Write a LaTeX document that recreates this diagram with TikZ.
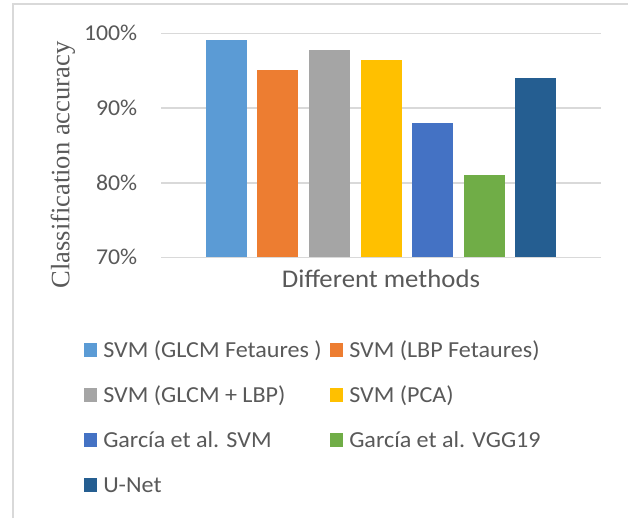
\documentclass[tikz,border=0pt]{standalone}
\usepackage{fontspec}
\setmainfont{Liberation Serif}
\newfontfamily\calfont{Carlito}[FakeStretch=1.05]
\definecolor{cA}{HTML}{5B9BD5}
\definecolor{cB}{HTML}{ED7D31}
\definecolor{cC}{HTML}{A5A5A5}
\definecolor{cD}{HTML}{FFC000}
\definecolor{cE}{HTML}{4472C4}
\definecolor{cF}{HTML}{70AD47}
\definecolor{cG}{HTML}{255E91}
\definecolor{txt}{HTML}{595959}
\definecolor{gridc}{HTML}{D9D9D9}
\tikzset{
  gridline/.style={draw=gridc, line width=1.2pt},
  ticklab/.style={text=txt, inner sep=0pt, font=\calfont\fontsize{17}{19}\selectfont},
  axtitle/.style={text=txt, inner sep=0pt, font=\calfont\fontsize{19.1}{22}\selectfont},
  ylab/.style={text=txt, inner sep=0pt, font=\fontsize{19.9}{23}\selectfont, rotate=90},
  legtext/.style={text=txt, inner sep=0pt, anchor=base west, font=\calfont\fontsize{17.2}{20}\selectfont},
  legbox/.style={inner sep=0pt, minimum width=9.6pt, minimum height=10.3pt, anchor=south west},
}
\begin{document}
\begin{tikzpicture}[x=0.75pt,y=-0.75pt]
\useasboundingbox (0,0) rectangle (628,518);
\fill[white] (0,0) rectangle (628,518);
\coordinate (bl) at (13,518);
\coordinate (tr) at (628,4);
\draw[gridc, line width=1.5pt] (bl) |- (tr);
% gridlines and ticks
\foreach \v/\y in {100/33.3, 90/108, 80/182.7, 70/257.3}{
  \coordinate (gl\v) at (161,\y);
  \coordinate (gr\v) at (601,\y);
  \draw[gridline] (gl\v) -- (gr\v);
  \node[ticklab, anchor=east] (t\v) at (137.5,\y) {\v\%};
}
% bars
\foreach \i/\val/\c in {1/99.07/cA, 2/95.1/cB, 3/97.8/cC, 4/96.4/cD, 5/88.0/cE, 6/81.0/cF, 7/94.0/cG}{
  \pgfmathsetmacro{\xc}{226.2+(\i-1)*51.6}
  \pgfmathsetmacro{\yt}{257.3-(\val-70)*7.467}
  \fill[\c] (\xc-20.5,257.3) rectangle (\xc+20.5,\yt);
}
\node[axtitle, anchor=base] (xt) at (381,287) {Different methods};
\node[ylab] (yt) at (63,165) {Classification accuracy};
% legend
\foreach \n/\x/\y/\c/\t in {
  l1/84/357/cA/{SVM (GLCM Fetaures )},
  l2/330/357/cB/{SVM (LBP Fetaures)},
  l3/84/402/cC/{SVM (GLCM + LBP)},
  l4/330/402/cD/{SVM (PCA)},
  l5/84/447/cE/{García et al. SVM},
  l6/330/447/cF/{García et al. VGG19},
  l7/84/492/cG/{U-Net}}{
  \node[legbox, fill=\c] (\n b) at (\x,\y) {};
  \node[legtext] (\n t) at (\x+19,\y) {\t};
}
\end{tikzpicture}
\end{document}
